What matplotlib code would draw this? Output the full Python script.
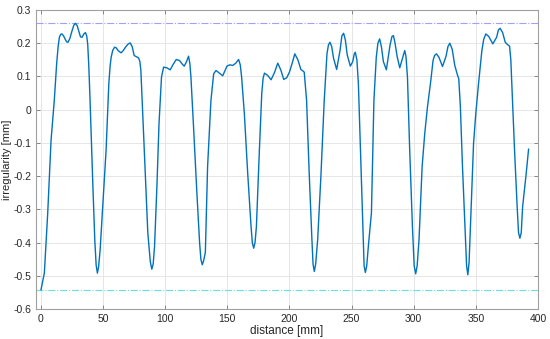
import matplotlib.pyplot as plt

plt.rcParams['font.family'] = ['Liberation Sans', 'DejaVu Sans']

# ==== Dados ====
distance = [0, 2.7, 5.4, 8.1, 10.7, 12.6, 13.8, 14.8, 15.9, 16.9, 18.2, 19.5, 20.7, 21.8,
            23.3, 24.8, 26.4, 27.7, 29.1, 30.5, 31.8, 33.1, 34.5, 35.8, 36.8, 37.6, 38.5,
            39.5, 41.7, 43.3, 44.4, 45.4, 46.4, 47.6, 49.7, 52.4, 54.6, 55.6, 56.5, 57.7,
            59.2, 60.6, 62, 64.5, 66.2, 68, 70, 71.8, 73.4, 75, 78.5, 79.6, 80.4, 82, 83.9,
            86, 88, 89.2, 90.3, 91.4, 93.3, 95, 97, 98.7, 101.3, 104, 106.5, 108.9, 111.5,
            113.5, 115.3, 117.2, 118.8, 119.8, 120.7, 122.8, 125.5, 127.7, 128.7, 129.8,
            130.9, 132.3, 134.1, 136.8, 139, 140.9, 143.6, 146.3, 149.7, 152, 154.3, 156.8,
            159.1, 160.4, 161.5, 163.7, 166.4, 169.1, 170.1, 171.2, 172.3, 173.4, 175.8,
            177.7, 178.8, 179.9, 182.5, 185.2, 188, 190.6, 193, 195.4, 197.8, 200, 202.2,
            204.3, 206.8, 209.2, 211, 211.9, 213.8, 215.9, 218.1, 219, 220, 221.1, 222.7,
            225.3, 228, 230.2, 231.4, 232.6, 234, 235.5, 238, 240.8, 242.2, 243.6, 245,
            246.5, 249, 251, 252.2, 253, 254.3, 255.5, 257.6, 259.5, 260.1, 261.1, 262.2,
            263.5, 266, 268, 269.9, 271.2, 272.6, 274, 275.6, 278, 281, 282.5, 283.7, 285,
            286.7, 288.8, 291, 292.8, 293.8, 295, 296.8, 299, 300.4, 301.6, 302.8, 304.3,
            306.8, 308.9, 311.1, 313.8, 315.6, 316.8, 318.3, 320.3, 323.2, 326, 327.6,
            329.1, 331, 333.1, 335.2, 336.3, 337.6, 339.3, 341.5, 342.6, 343.6, 344.6,
            346, 348.2, 350, 352.2, 354.9, 356.4, 358.1, 360.5, 363.7, 366.8, 368.2,
            369.6, 371.6, 373.7, 375.5, 377.2, 378.2, 379, 381.2, 383.3, 384.4, 385.5,
            386.6, 387.7, 390.3, 392.5]
irregularity = [-0.542, -0.492, -0.312, -0.092, 0.028, 0.138, 0.19, 0.218, 0.227, 0.228,
                0.222, 0.212, 0.204, 0.203, 0.215, 0.235, 0.254, 0.26, 0.253, 0.235,
                0.219, 0.218, 0.228, 0.232, 0.222, 0.198, 0.13, 0.028, -0.222, -0.392,
                -0.468, -0.492, -0.472, -0.422, -0.292, -0.122, 0.078, 0.13, 0.158, 0.178,
                0.188, 0.186, 0.178, 0.171, 0.178, 0.188, 0.197, 0.201, 0.19, 0.163,
                0.156, 0.145, 0.118, -0.022, -0.192, -0.372, -0.458, -0.48, -0.465,
                -0.412, -0.232, -0.042, 0.098, 0.128, 0.126, 0.12, 0.137, 0.151, 0.148,
                0.138, 0.131, 0.145, 0.161, 0.14, 0.098, -0.052, -0.252, -0.402, -0.45,
                -0.467, -0.455, -0.43, -0.172, 0.028, 0.108, 0.118, 0.11, 0.102, 0.131,
                0.135, 0.133, 0.14, 0.151, 0.135, 0.098, -0.012, -0.192, -0.352, -0.4,
                -0.417, -0.4, -0.352, -0.122, 0.048, 0.095, 0.11, 0.103, 0.09, 0.112,
                0.14, 0.12, 0.091, 0.096, 0.113, 0.14, 0.168, 0.15, 0.121, 0.116, 0.113,
                0.028, -0.192, -0.392, -0.465, -0.487, -0.465, -0.392, -0.202, 0.028,
                0.168, 0.195, 0.203, 0.19, 0.155, 0.121, 0.18, 0.222, 0.23, 0.21, 0.165,
                0.131, 0.145, 0.168, 0.173, 0.15, 0.078, -0.172, -0.392, -0.47, -0.49,
                -0.47, -0.412, -0.31, 0.028, 0.158, 0.2, 0.213, 0.19, 0.145, 0.12, 0.195,
                0.22, 0.223, 0.2, 0.16, 0.126, 0.155, 0.178, 0.16, 0.098, -0.122, -0.352,
                -0.47, -0.494, -0.47, -0.392, -0.172, -0.072, 0.008, 0.088, 0.148, 0.163,
                0.168, 0.158, 0.13, 0.16, 0.19, 0.2, 0.182, 0.133, 0.105, 0.093, 0.008,
                -0.172, -0.372, -0.47, -0.497, -0.46, -0.322, -0.102, -0.012, 0.078, 0.178,
                0.212, 0.228, 0.22, 0.198, 0.218, 0.24, 0.245, 0.232, 0.203, 0.196, 0.191,
                0.15, 0.078, -0.122, -0.292, -0.37, -0.387, -0.37, -0.292, -0.202, -0.119]
limite_sup = 0.261
limite_inf = -0.544

# ==== Gráfico ====
fig = plt.figure(figsize=(5.5, 3.39), dpi=100)
ax = fig.add_axes([0.0655, 0.0885, 0.9125, 0.882])

ax.axhline(limite_sup, color="#a0a0ff", linestyle="-.", linewidth=0.8)
ax.axhline(limite_inf, color="#66e0e0", linestyle="-.", linewidth=0.8)
ax.plot(distance, irregularity, color="#0072BD", linewidth=1.0, solid_joinstyle="round")

ax.set_xlim(-4, 400)
ax.set_ylim(-0.6, 0.3)
ax.set_xticks(range(0, 401, 50))
ax.set_yticks([-0.6, -0.5, -0.4, -0.3, -0.2, -0.1, 0, 0.1, 0.2, 0.3])
ax.set_yticklabels(["-0.6", "-0.5", "-0.4", "-0.3", "-0.2", "-0.1", "0", "0.1", "0.2", "0.3"])
ax.grid(True, color="#e6e6e6", linewidth=0.7)
ax.set_axisbelow(True)

for s in ax.spines.values():
    s.set_color("#a0a0a0")
    s.set_linewidth(0.8)
ax.tick_params(direction="in", length=3, width=0.6, color="#777777",
               labelsize=7.5, labelcolor="#262626", top=True, right=True)

ax.set_xlabel("distance [mm]", fontsize=8.5, color="#262626", labelpad=1)
ax.set_ylabel("irregularity [mm]", fontsize=8, color="#262626")
ax.yaxis.set_label_coords(-0.047, 0.5)

fig.savefig("out.png", dpi=100)
